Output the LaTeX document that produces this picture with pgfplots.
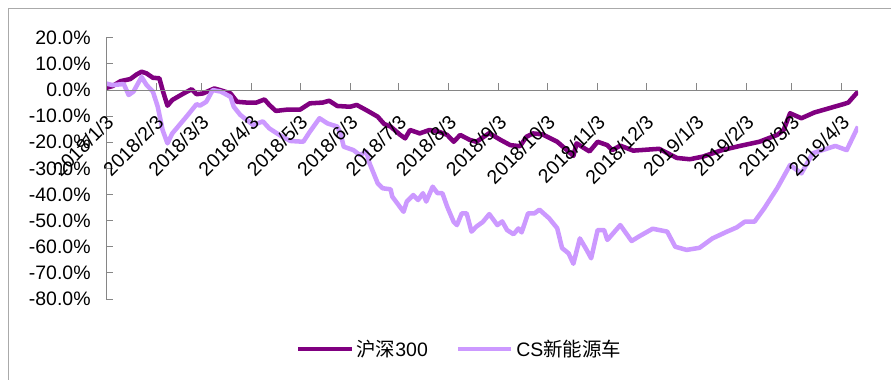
\documentclass[border=0pt]{standalone}
\usepackage{fontspec}
\setmainfont{Liberation Sans}
\newfontfamily\cjk{Noto Sans CJK SC}
\usepackage{pgfplots}
\pgfplotsset{compat=1.18}
\definecolor{hsdark}{RGB}{128,0,128}
\definecolor{nevlight}{RGB}{204,153,255}
\definecolor{axgray}{RGB}{134,134,134}
\definecolor{framegray}{RGB}{170,170,170}
\begin{document}
\begin{tikzpicture}
\path[use as bounding box] (0,0) rectangle (668.25pt,284.25pt);
\draw[framegray, line width=0.75pt] (6pt,-2pt) -- (6pt,277.5pt) -- (672pt,277.5pt);
\begin{axis}[
  at={(79.5pt,60pt)}, anchor=south west,
  scale only axis, width=564pt, height=195.9pt,
  xmin=0, xmax=465, ymin=-80, ymax=20,
  axis on top,
  axis x line=middle, axis y line=left,
  axis line style={axgray, line width=0.75pt, -},
  hide obscured x ticks=false,
  xtick align=inside, ytick align=inside,
  major tick length=5.25pt,
  tick style={axgray, line width=0.75pt},
  xtick={0,31,59,90,120,151,181,212,243,273,304,334,365,396,424,455},
  xticklabels={2018/1/3,2018/2/3,2018/3/3,2018/4/3,2018/5/3,2018/6/3,2018/7/3,2018/8/3,2018/9/3,2018/10/3,2018/11/3,2018/12/3,2019/1/3,2019/2/3,2019/3/3,2019/4/3},
  ytick={-80,-70,...,20},
  yticklabel={\pgfmathprintnumber{\tick}\%},
  /pgf/number format/fixed,
  /pgf/number format/fixed zerofill,
  /pgf/number format/precision=1,
  /pgf/number format/assume math mode=true,
  ticklabel style={font=\fontsize{14.6}{17}\selectfont, text=black},
  yticklabel style={xshift=-8pt},
  xticklabel style={inner sep=0pt, xshift=3pt, yshift=-21.5pt, rotate=45, anchor=east},
  legend columns=2,
  legend style={draw=none, fill=none, at={(0.4707,-0.1914)}, anchor=center,
    font=\fontsize{14.6}{17}\selectfont, inner sep=0pt,
    /tikz/every even column/.append style={column sep=19pt}},
  legend image code/.code={\draw[#1] (0pt,0pt) -- (40pt,0pt);},
  line join=round,
]
\addplot[hsdark, line width=3.4pt] coordinates {
(0,0.8) (4,1.5) (9,3.4) (15,4.2) (19,6.0) (22,7.0) (25,6.4) (29,4.7) (33,4.5) (35,0)
(38,-6.0) (41,-3.8) (48,-1.3) (53,0.3) (56,-1.6) (60,-1.3) (67,0.6) (72,-0.3) (77,-1.3)
(81,-4.5) (87,-4.8) (93,-4.8) (98,-3.6) (101,-5.7) (105,-8.0) (112,-7.5) (120,-7.5)
(126,-5.1) (134,-4.8) (138,-4.1) (143,-6.1) (151,-6.4) (155,-5.7) (161,-7.7) (168,-10.2)
(172,-13.0) (176,-14.0) (182,-17.2) (185,-18.5) (188,-15.3) (194,-16.6) (200,-15.3)
(206,-16.0) (211,-17.2) (215,-19.8) (219,-17.2) (225,-19.1) (229,-19.8) (237,-16.5)
(244,-19.1) (250,-21.1) (256,-21.5) (260,-17.9) (264,-16.6) (270,-17.0) (279,-19.8)
(285,-23.0) (289,-25.2) (291,-20.4) (295,-22.0) (299,-23.5) (304,-19.8) (310,-21.1)
(313,-23.0) (318,-21.3) (326,-23.2) (342,-22.5) (353,-26.0) (361,-26.5) (369,-25.5)
(381,-23.0) (392,-21.4) (404,-19.8) (415,-17.2) (419,-15.3) (423,-8.9) (430,-10.8)
(438,-8.6) (456,-5.4) (459,-4.8) (465,-0.6)
};
\addlegendentry{{\cjk 沪深}300}
\addplot[nevlight, line width=3.4pt] coordinates {
(0,2.5) (4,1.9) (11,2.3) (14,-1.9) (17,-0.6) (22,5.0) (25,2.0) (29,-0.6) (32,-6.4)
(35,-15.3) (38,-20.4) (41,-16.6) (50,-10.0) (56,-5.4) (58,-6.0) (62,-4.5) (66,0)
(71,-0.6) (77,-2.6) (79,-6.4) (83,-9.5) (91,-13.4) (97,-12.0) (101,-14.7) (108,-17.5)
(114,-19.5) (122,-19.8) (126,-16.0) (132,-10.8) (137,-12.8) (143,-14.0) (145,-16.6)
(147,-21.7) (153,-23.0) (157,-24.9) (161,-23.6) (163,-28.1) (168,-35.7) (171,-37.6)
(176,-38.0) (177,-40.8) (184,-46.6) (186,-42.7) (190,-40.2) (193,-42.1) (196,-39.5)
(198,-42.7) (202,-37.0) (205,-39.5) (208,-39.5) (211,-44.7) (215,-50.5) (217,-51.7)
(220,-47.2) (223,-47.2) (226,-54.2) (229,-52.3) (233,-50.5) (237,-47.5) (242,-51.7)
(245,-50.3) (248,-53.6) (252,-55.2) (255,-53.0) (257,-54.5) (261,-47.2) (265,-47.2)
(268,-45.8) (274,-49.1) (279,-52.9) (282,-60.5) (286,-62.5) (289,-66.5) (293,-56.8)
(297,-61.0) (300,-64.4) (304,-53.6) (308,-53.6) (310,-57.4) (318,-51.7) (325,-57.8)
(330,-55.9) (338,-53.1) (347,-54.2) (352,-60.0) (359,-61.2) (367,-60.4) (375,-56.8)
(384,-54.2) (390,-52.6) (395,-50.4) (401,-50.4) (407,-45.3) (415,-37.6) (423,-28.7)
(430,-31.9) (437,-24.2) (443,-23.0) (451,-21.4) (458,-23.0) (465,-14.0)
};
\addlegendentry{CS{\cjk 新能源车}}
\end{axis}
\end{tikzpicture}
\end{document}
